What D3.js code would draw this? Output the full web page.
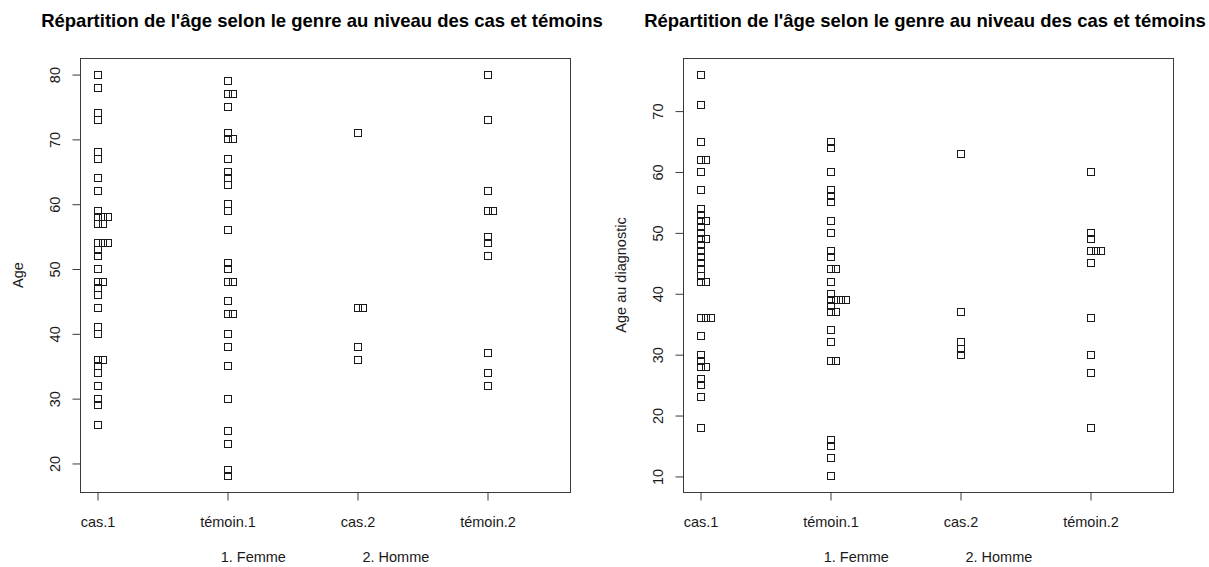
<!DOCTYPE html>
<html>
<head>
<meta charset="utf-8">
<script src="https://cdn.jsdelivr.net/npm/d3@7"></script>
<style>
  html, body { margin: 0; padding: 0; background: #ffffff; }
  svg { display: block; font-family: "Liberation Sans", Arial, sans-serif; }
</style>
</head>
<body>
<svg id="chart" width="1209" height="567"></svg>
<script>
// Groups along the x axis (gender 1 = Femme, 2 = Homme)
const categories = ["cas.1", "témoin.1", "cas.2", "témoin.2"];

// Panel 1: age
const ageCas1 = [80, 78, 74, 73, 68, 67, 64, 62, 59, 58, 58, 58, 57, 57, 54, 54, 54, 53, 52, 50,
  48, 48, 47, 46, 44, 41, 40, 36, 36, 35, 34, 32, 30, 29, 26];
const ageTemoin1 = [79, 77, 77, 75, 71, 70, 70, 67, 65, 64, 63, 60, 59, 56, 51, 50, 48, 48, 45,
  43, 43, 40, 38, 35, 30, 25, 23, 19, 18];
const ageCas2 = [71, 44, 44, 38, 36];
const ageTemoin2 = [80, 73, 62, 59, 59, 55, 54, 52, 37, 34, 32];
const ageTicks = [20, 30, 40, 50, 60, 70, 80];

// Panel 2: age at diagnosis
const diagCas1 = [76, 71, 65, 62, 62, 60, 57, 54, 53, 52, 52, 51, 50, 49, 49, 48, 47, 46, 45, 44,
  43, 42, 42, 36, 36, 36, 33, 30, 29, 28, 28, 26, 25, 23, 18];
const diagTemoin1 = [65, 64, 60, 57, 56, 55, 52, 50, 47, 46, 44, 44, 42, 40, 39, 39, 39, 39, 38,
  37, 37, 34, 32, 29, 29, 16, 15, 13, 10];
const diagCas2 = [63, 37, 32, 31, 30];
const diagTemoin2 = [60, 50, 49, 47, 47, 47, 45, 36, 30, 27, 18];
const diagTicks = [10, 20, 30, 40, 50, 60, 70];

const titleText = "Répartition de l'âge selon le genre au niveau des cas et témoins";
const subText = "1. Femme" + "\u00a0".repeat(19) + "2. Homme";

const svg = d3.select("#chart");
const ink = "#1a1a1a";
const lineInk = "#3a3a3a";
const labelSize = 14.5;

function drawPanel(opts) {
  const { left, right, top, bottom, groups, ticks, yLabel } = opts;

  // y range: data range extended by 4% on each side
  const all = groups.flat();
  const lo = d3.min(all), hi = d3.max(all);
  const pad = (hi - lo) * 0.04;
  const y = d3.scaleLinear().domain([lo - pad, hi + pad]).range([bottom, top]);

  // x: one position per group, stacks grow to the right
  const x = d3.scaleLinear().domain([1 - 17 / 130, 4 + 83 / 130]).range([left, right]);

  const g = svg.append("g");

  // frame
  g.append("rect")
    .attr("x", left + 0.5).attr("y", top + 0.5)
    .attr("width", right - left).attr("height", bottom - top)
    .attr("fill", "none").attr("stroke", lineInk).attr("stroke-width", 1);

  // y axis
  const ya = g.append("g")
    .attr("transform", `translate(${left + 0.5},0.5)`)
    .call(d3.axisLeft(y).tickValues(ticks).tickSize(8).tickFormat(d3.format("d")));
  ya.select(".domain").remove();
  ya.selectAll("line").attr("stroke", lineInk);
  ya.selectAll("text")
    .attr("x", null).attr("dy", null)
    .attr("transform", "translate(-21,0) rotate(-90)")
    .attr("text-anchor", "middle")
    .attr("fill", ink).attr("font-size", labelSize)
    .attr("font-family", "Liberation Sans, Arial, sans-serif");

  // x axis
  const xa = g.append("g")
    .attr("transform", `translate(0.5,${bottom + 0.5})`)
    .call(d3.axisBottom(x).tickValues([1, 2, 3, 4]).tickSize(8)
      .tickFormat(d => categories[d - 1]));
  xa.select(".domain").remove();
  xa.selectAll("line").attr("stroke", lineInk);
  xa.selectAll("text")
    .attr("y", 34).attr("dy", null)
    .attr("fill", ink).attr("font-size", labelSize)
    .attr("font-family", "Liberation Sans, Arial, sans-serif");

  const cx = (left + right) / 2;

  // title
  g.append("text")
    .attr("x", cx - 3).attr("y", 27)
    .attr("text-anchor", "middle")
    .attr("font-size", 18.5).attr("font-weight", "bold")
    .attr("fill", "#000")
    .text(titleText);

  // subtitle with the group legend
  g.append("text")
    .attr("x", cx).attr("y", 562)
    .attr("text-anchor", "middle")
    .attr("font-size", labelSize).attr("fill", ink)
    .text(subText);

  // y axis title
  g.append("text")
    .attr("transform", `translate(${left - 57},${(top + bottom) / 2}) rotate(-90)`)
    .attr("text-anchor", "middle")
    .attr("font-size", labelSize).attr("fill", ink)
    .text(yLabel);

  // points: open squares, repeated values stacked sideways
  const step = 5;
  const pts = [];
  groups.forEach((vals, i) => {
    const seen = new Map();
    vals.forEach(v => {
      const k = seen.get(v) || 0;
      seen.set(v, k + 1);
      pts.push({ gx: i + 1, v, k });
    });
  });
  g.append("g").selectAll("rect")
    .data(pts)
    .join("rect")
    .attr("x", d => Math.round(x(d.gx) + d.k * step - 3.5) + 0.5)
    .attr("y", d => Math.round(y(d.v) - 3.5) + 0.5)
    .attr("width", 7).attr("height", 7)
    .attr("fill", "none").attr("stroke", ink).attr("stroke-width", 1);
}

drawPanel({
  left: 80, right: 570, top: 58, bottom: 492,
  groups: [ageCas1, ageTemoin1, ageCas2, ageTemoin2],
  ticks: ageTicks, yLabel: "Age"
});

drawPanel({
  left: 683, right: 1173, top: 58, bottom: 492,
  groups: [diagCas1, diagTemoin1, diagCas2, diagTemoin2],
  ticks: diagTicks, yLabel: "Age au diagnostic"
});
</script>
</body>
</html>
